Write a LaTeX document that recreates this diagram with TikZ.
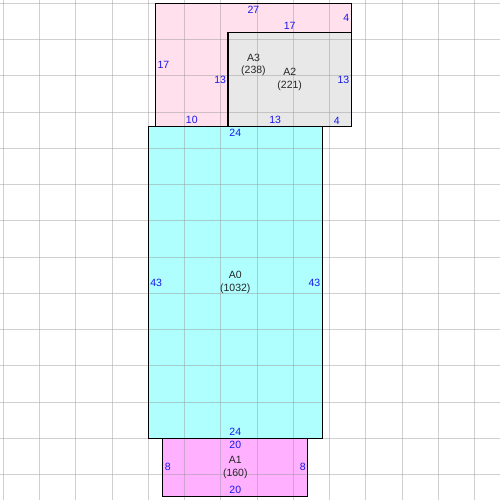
\documentclass[tikz,border=0pt]{standalone}
\usepackage[usenames,dvipsnames,svgnames,table]{xcolor}
\usepackage{fontspec}
\setmainfont{Liberation Sans}
\usepackage{tikz}
\usetikzlibrary{calc}

\definecolor{roompink}{RGB}{255,224,236}
\definecolor{roomgray}{RGB}{232,232,232}
\definecolor{roomcyan}{RGB}{175,255,255}
\definecolor{roomviolet}{RGB}{255,176,255}
\definecolor{gridgray}{RGB}{150,150,150}
\definecolor{lenblue}{RGB}{25,25,235}

\begin{document}
\begin{tikzpicture}[x=7.25pt, y=-7.25pt, font=\fontsize{10.5}{12.5}\selectfont,
	room/.style={inner sep=0pt, outer sep=0pt},
	roomname/.style={align=center, text=black!85},
	len/.style={text=lenblue, inner xsep=2pt, inner ysep=2.5pt, outer sep=0pt},
	gridline/.style={draw=gridgray, line width=1pt, draw opacity=0.45}]
				\useasboundingbox (-0.455,-0.455) rectangle (68.51,68.51);

				\node[room, fill=roompink, minimum width=195.75pt, minimum height=123.25pt] (A3) at (34.5,8.5) {};
				\node[room, fill=roomgray, minimum width=123.25pt, minimum height=94.25pt] (A2) at (39.5,10.5) {};
				\node[room, fill=roomcyan, minimum width=174pt, minimum height=311.75pt] (A0) at (32,38.5) {};
				\node[room, fill=roomviolet, minimum width=145pt, minimum height=58pt] (A1) at (32,64) {};

				\foreach \k in {0,5,...,65} {
					\draw[gridline] (\k,-0.455) -- (\k,68.51);
					\draw[gridline] (-0.455,\k) -- (68.51,\k);
				}

				\foreach \r in {A3,A2,A0,A1}
					\draw[line width=1.2pt] (\r.north west) rectangle (\r.south east);

				\node[roomname] (n3) at (A3) {A3\\(238)};
				\node[roomname] (n2) at (A2) {A2\\(221)};
				\node[roomname] (n0) at (A0) {A0\\(1032)};
				\node[roomname] (n1) at (A1) {A1\\(160)};

				\node[len, below] (a3t) at (A3.north) {27};
				\node[len, right] (a3l) at (A3.west) {17};
				\node[len, above] (a3b) at ($(A3.south west)!0.5!(A2.south west)$) {10};
				\node[len, left] (a3r) at ($(A3.north east)+(0,2)$) {4};
				\node[len, left] (a2l) at (A2.west) {13};
				\node[len, above] (a2t) at (A2.north) {17};
				\node[len, above] (a2b) at ($(A2.south west)!0.5!(A0.north east)$) {13};
				\node[len, above] (a2c) at ($(A0.north east)!0.5!(A2.south east)$) {4};
				\node[len, left] (a2r) at (A2.east) {13};

				\node[len, below] (a0t) at (A0.north) {24};
				\node[len, right] (a0l) at (A0.west) {43};
				\node[len, left] (a0r) at (A0.east) {43};
				\node[len, above] (a0b) at (A0.south) {24};

				\node[len, below] (a1t) at (A1.north) {20};
				\node[len, right] (a1l) at (A1.west) {8};
				\node[len, left] (a1r) at (A1.east) {8};
				\node[len, above] (a1b) at (A1.south) {20};
\end{tikzpicture}
\end{document}
